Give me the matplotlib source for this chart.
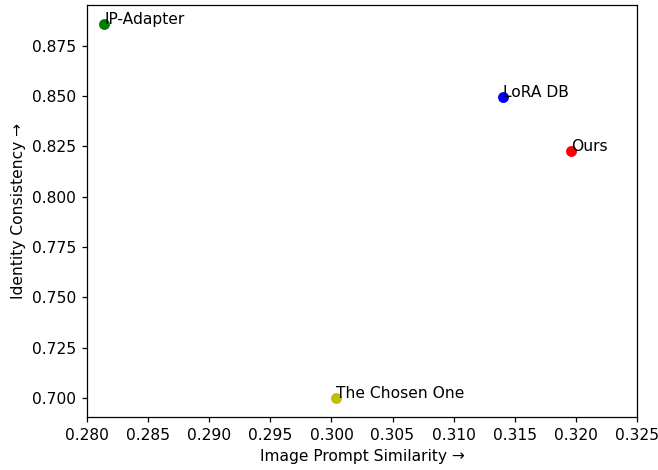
import matplotlib
matplotlib.use("Agg")
import matplotlib.pyplot as plt

methods = ["IP-Adapter", "LoRA DB", "Ours", "The Chosen One"]
prompt_similarity = [0.2814, 0.3140, 0.3196, 0.3004]
identity_consistency = [0.8860, 0.8498, 0.8228, 0.6999]
colors = ["g", "b", "r", "y"]

# rendered a bit larger than 100 dpi, like the reference
fig, ax = plt.subplots(figsize=(658 / 112, 470 / 112), dpi=112)
for name, x, y, c in zip(methods, prompt_similarity, identity_consistency, colors):
    ax.scatter(x, y, color=c)
    ax.text(x, y, name)

ax.set_xlim(0.280, 0.325)
ax.set_xlabel("Image Prompt Similarity →")
ax.set_ylabel("Identity Consistency →")
fig.subplots_adjust(left=87 / 658, right=637 / 658, top=1 - 5 / 470, bottom=1 - 417 / 470)
plt.savefig("out.png")
